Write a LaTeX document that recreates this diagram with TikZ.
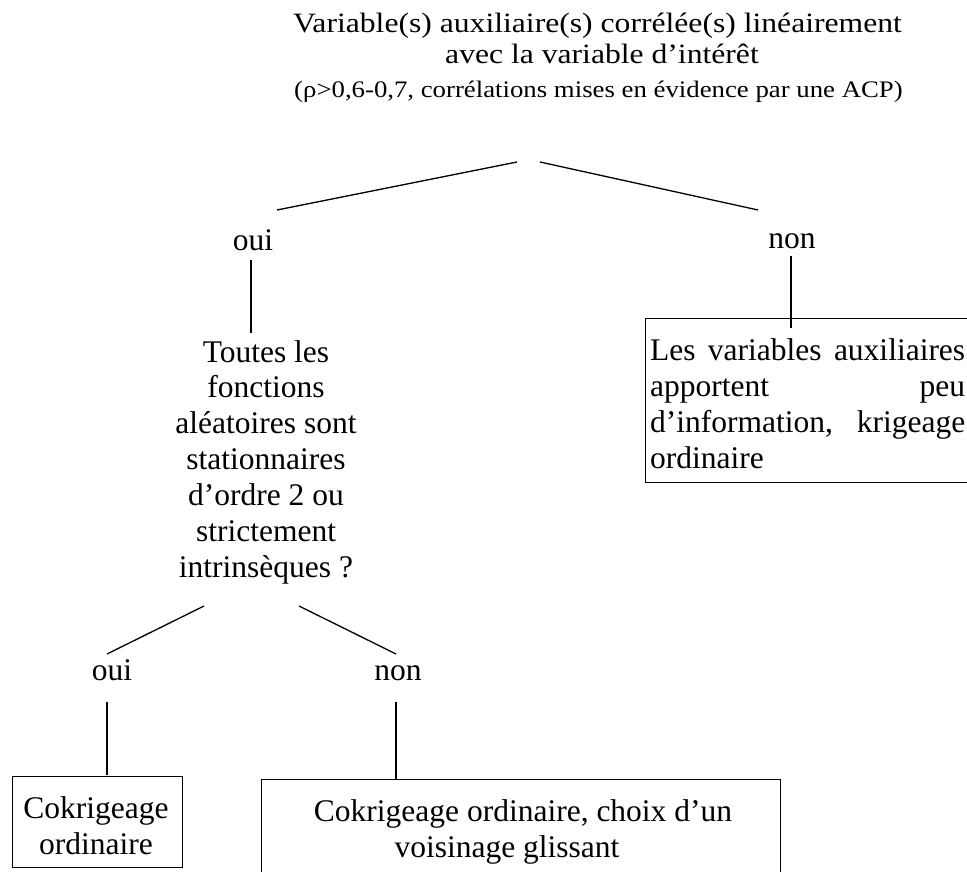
\documentclass[tikz,border=0pt]{standalone}
\usepackage{fontspec}
\setmainfont{Liberation Serif}
\newfontfamily\titlefont{Liberation Serif}[FakeStretch=1.13]
\begin{document}
\begin{tikzpicture}[x=1pt,y=-1pt,
  txt/.style={inner sep=0pt, anchor=base, font=\fontsize{31.5}{36}\selectfont},
  ttl/.style={inner sep=0pt, anchor=base, font=\titlefont\fontsize{28}{30}\selectfont},
  sub/.style={inner sep=0pt, anchor=base, font=\titlefont\fontsize{23.7}{26}\selectfont},
  frame/.style={draw, line width=1.3pt, inner sep=0pt, anchor=north west},
  link/.style={line width=1.3pt}]
\useasboundingbox (0,0) rectangle (967,872);
% title
\node[ttl] (t1) at (597.5,33) {Variable(s) auxiliaire(s) corrélée(s) linéairement};
\node[ttl] (t2) at (602,64) {avec la variable d’intérêt};
\node[sub] (t3) at (598.5,98) {(ρ>0,6-0,7, corrélations mises en évidence par une ACP)};
% first split
\coordinate (sL) at (517,162);
\coordinate (sR) at (540,162);
\coordinate (eL) at (277,210);
\coordinate (eR) at (758,210);
\draw[link] (sL) -- (eL);
\draw[link] (sR) -- (eR);
\node[txt] (oui1) at (253,250) {oui};
\node[txt] (non1) at (792,248) {non};
\coordinate (o1a) at (251,260);
\coordinate (o1b) at (251,333);
\draw[link] (o1a) -- (o1b);
% right box
\node[frame, minimum width=335pt, minimum height=164pt] (boxR) at (645,318) {};
\coordinate (n1a) at (791,256);
\coordinate (n1b) at (791,328);
\draw[link] (n1a) -- (n1b);
\node[txt, anchor=base west] (r1) at (650,360) {\makebox[315pt][s]{Les variables auxiliaires}};
\node[txt, anchor=base west] (r2) at (650,396) {\makebox[315pt][s]{apportent peu}};
\node[txt, anchor=base west] (r3) at (650,432) {\makebox[315pt][s]{d’information, krigeage}};
\node[txt, anchor=base west] (r4) at (650,468) {ordinaire};
% question block
\node[txt] (q1) at (266,362) {Toutes les};
\node[txt] (q2) at (266,397) {fonctions};
\node[txt] (q3) at (266,433) {aléatoires sont};
\node[txt] (q4) at (266,469) {stationnaires};
\node[txt] (q5) at (266,505) {d’ordre 2 ou};
\node[txt] (q6) at (266,541) {strictement};
\node[txt] (q7) at (266,577) {intrinsèques ?};
% second split
\coordinate (s2L) at (204,606);
\coordinate (s2R) at (299,606);
\coordinate (e2L) at (107,654);
\coordinate (e2R) at (396,654);
\draw[link] (s2L) -- (e2L);
\draw[link] (s2R) -- (e2R);
\node[txt] (oui2) at (112,680) {oui};
\node[txt] (non2) at (398,680) {non};
\coordinate (o2a) at (107,702);
\coordinate (o2b) at (107,775);
\coordinate (n2a) at (396,702);
\coordinate (n2b) at (396,779);
\draw[link] (o2a) -- (o2b);
\draw[link] (n2a) -- (n2b);
% bottom boxes
\node[frame, minimum width=170pt, minimum height=91pt] (boxL) at (12,776) {};
\node[txt] (c1) at (96,818) {Cokrigeage};
\node[txt] (c2) at (96,854) {ordinaire};
\node[frame, minimum width=519pt, minimum height=110pt] (boxM) at (261,779) {};
\node[txt] (m1) at (523,821) {Cokrigeage ordinaire, choix d’un};
\node[txt] (m2) at (507,857) {voisinage glissant};
\end{tikzpicture}
\end{document}
